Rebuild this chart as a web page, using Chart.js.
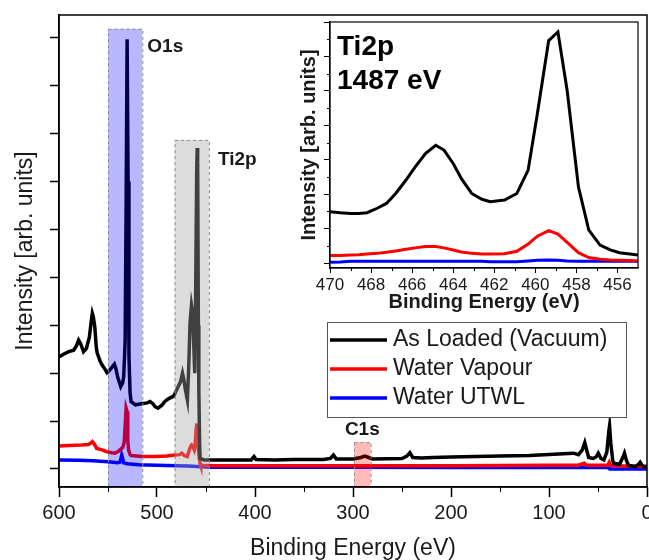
<!DOCTYPE html>
<html>
<head>
<meta charset="utf-8">
<title>XPS survey with Ti2p inset</title>
<script src="https://cdn.jsdelivr.net/npm/chart.js@4.4.0/dist/chart.umd.min.js"></script>
<style>
    body { margin: 0; background: #fff; }
    #wrap { position: relative; width: 649px; height: 560px; overflow: hidden; }
    #main { position: absolute; left: 0; top: 0; }
    #inset { position: absolute; left: 290px; top: 16px; background: #fff; }
</style>
</head>
<body>
<div id="wrap">
    <canvas id="main" width="649" height="560"></canvas>
    <canvas id="inset" width="355" height="302"></canvas>
</div>
<script>
// Survey spectra (binding energy in eV, intensity in arb. units)
const vacuumEnergy = [600, 595, 590, 585, 582, 580, 578, 575, 572, 569, 567, 566, 565, 563.5, 562, 561, 558, 556, 553, 551, 548, 545, 543.5, 542, 540, 537, 535, 534, 533, 532.5, 531.5, 530.5, 530, 529.5, 528.6, 527.5, 526.5, 522, 516, 510, 507, 504, 502, 499, 495, 492, 488, 483, 480, 477, 476, 474, 472.5, 471, 469, 467.5, 466.3, 464.8, 463.5, 462.5, 461.5, 460.5, 459.5, 459, 458.5, 457.8, 457.3, 456.5, 456, 452, 440, 420, 404, 401, 399, 380, 360, 330, 323, 320, 317, 300, 292, 288, 284, 280, 250, 245, 242, 239, 230, 218, 200, 150, 120, 100, 85, 75, 70, 66, 63.5, 61, 59.5, 55, 52, 49.7, 47, 44, 41, 39, 38.2, 37, 35, 34, 28, 24.5, 23, 21, 19, 12, 8.5, 7, 5, 3.5, 0];
const vacuumIntensity = [2.34, 2.40, 2.45, 2.48, 2.58, 2.69, 2.62, 2.45, 2.52, 2.75, 3.10, 3.25, 3.18, 2.97, 2.55, 2.42, 2.25, 2.17, 2.08, 2.01, 2.07, 2.15, 2.19, 2.10, 1.91, 1.72, 1.80, 1.93, 2.40, 2.69, 5.5, 8.97, 8.97, 6.0, 2.34, 1.6, 1.41, 1.34, 1.36, 1.38, 1.41, 1.36, 1.30, 1.27, 1.33, 1.41, 1.47, 1.52, 1.65, 1.78, 1.82, 2.0, 1.85, 1.65, 1.44, 2.2, 3.04, 3.42, 3.25, 2.6, 2.0, 3.8, 6.2, 6.70, 6.4, 3.0, 1.65, 0.5, 0.22, 0.19, 0.19, 0.19, 0.19, 0.26, 0.20, 0.19, 0.20, 0.20, 0.22, 0.29, 0.21, 0.21, 0.24, 0.27, 0.24, 0.21, 0.22, 0.27, 0.34, 0.24, 0.23, 0.24, 0.25, 0.27, 0.28, 0.30, 0.32, 0.33, 0.30, 0.40, 0.55, 0.35, 0.24, 0.22, 0.25, 0.33, 0.22, 0.19, 0.35, 0.78, 0.90, 0.55, 0.18, 0.12, 0.10, 0.25, 0.33, 0.18, 0.08, 0.05, 0.10, 0.14, 0.08, 0.05, 0.05];

const vapourEnergy = [600, 590, 577, 570, 567, 566, 564, 561.5, 556, 551, 546, 543, 540, 537.8, 535, 533.5, 532.5, 531.5, 530.5, 529.8, 529, 527.5, 526.5, 515, 502, 490, 481.6, 477, 474.8, 472, 469, 467, 465.5, 464.6, 463, 462, 461, 460, 459.5, 459, 458, 457.1, 456, 455.4, 440, 400, 300, 200, 100, 70, 64, 62, 40, 38.5, 37, 20, 0];
const vapourIntensity = [0.48, 0.49, 0.50, 0.51, 0.55, 0.57, 0.52, 0.43, 0.40, 0.36, 0.34, 0.33, 0.36, 0.40, 0.45, 0.55, 0.90, 1.27, 1.20, 0.60, 0.40, 0.30, 0.28, 0.26, 0.26, 0.27, 0.29, 0.30, 0.33, 0.28, 0.26, 0.40, 0.48, 0.50, 0.45, 0.40, 0.50, 0.85, 0.95, 0.85, 0.45, 0.26, 0.12, 0.08, 0.07, 0.07, 0.07, 0.07, 0.08, 0.08, 0.12, 0.08, 0.08, 0.14, 0.07, 0.06, 0.05];

const utwlEnergy = [600, 580, 565, 550, 540, 538, 537, 536, 535, 534, 530, 519, 500, 480, 468, 460, 444, 400, 300, 200, 100, 40, 38, 0];
const utwlIntensity = [0.19, 0.18, 0.17, 0.15, 0.13, 0.14, 0.20, 0.29, 0.22, 0.13, 0.11, 0.09, 0.08, 0.07, 0.06, 0.05, 0.035, 0.035, 0.035, 0.03, 0.03, 0.03, 0.0, 0.0];

// Ti2p inset spectra
const ti2pEnergy = [470, 469.5, 469, 468.6, 468.2, 467.7, 467.25, 466.8, 466.3, 465.85, 465.35, 464.85, 464.45, 464, 463.6, 463.1, 462.6, 462.2, 461.5, 460.9, 460.35, 459.9, 459.35, 458.9, 458.45, 457.9, 457.4, 456.85, 456.35, 455.9, 455.4, 455];
const ti2pVacuum = [1.49, 1.46, 1.44, 1.44, 1.46, 1.59, 1.73, 2.02, 2.41, 2.79, 3.18, 3.42, 3.28, 2.89, 2.45, 2.02, 1.85, 1.78, 1.83, 2.02, 2.70, 4.34, 6.46, 6.71, 5.01, 2.21, 0.96, 0.52, 0.38, 0.30, 0.26, 0.23];
const ti2pVapour = [0.22, 0.22, 0.23, 0.24, 0.26, 0.28, 0.31, 0.35, 0.40, 0.44, 0.48, 0.48, 0.44, 0.38, 0.32, 0.28, 0.26, 0.26, 0.27, 0.34, 0.55, 0.78, 0.94, 0.84, 0.60, 0.30, 0.16, 0.11, 0.09, 0.08, 0.07, 0.06];
const ti2pUtwl = [0.02, 0.03, 0.05, 0.05, 0.05, 0.05, 0.05, 0.05, 0.05, 0.05, 0.05, 0.05, 0.05, 0.05, 0.05, 0.05, 0.05, 0.04, 0.04, 0.04, 0.06, 0.08, 0.09, 0.08, 0.06, 0.05, 0.05, 0.05, 0.05, 0.05, 0.05, 0.05];

const seriesLabels = ['As Loaded (Vacuum)', 'Water Vapour', 'Water UTWL'];
const seriesColors = ['#000000', '#ff0000', '#0000ff'];

// Highlighted core-level windows: label, high eV, low eV, top of box
const regionLabels = ['O1s', 'Ti2p', 'C1s'];
const regionHigh = [550, 482, 299];
const regionLow = [515, 447, 282];
const regionTop = [9.19, 6.87, 0.56];
const regionFills = ['rgba(0, 0, 255, 0.28)', 'rgba(164, 164, 164, 0.39)', 'rgba(255, 0, 0, 0.27)'];

const FONT = '"Liberation Sans", Arial, sans-serif';
const TEXT = '#1a1a1a';

function series(i, energy, intensity, width) {
    return {
        label: seriesLabels[i],
        data: energy.map((e, k) => ({ x: e, y: intensity[k] })),
        borderColor: seriesColors[i],
        backgroundColor: seriesColors[i],
        borderWidth: width,
        pointRadius: 0,
        tension: 0,
        fill: false
    };
}

// Box around the plot area
const framePlugin = {
    id: 'frame',
    afterDraw(chart, args, opts) {
        const { ctx, chartArea: a } = chart;
        ctx.save();
        ctx.strokeStyle = '#000';
        ctx.lineWidth = opts.width || 1.5;
        ctx.strokeRect(a.left, a.top, a.right - a.left, a.bottom - a.top);
        ctx.restore();
    }
};

// Short ticks halfway between the major ones
const minorTickPlugin = {
    id: 'minorTicks',
    afterDraw(chart, args, opts) {
        const { ctx } = chart;
        ctx.save();
        ctx.strokeStyle = '#000';
        ctx.lineWidth = 1;
        ['x', 'y'].forEach(id => {
            const len = opts[id];
            if (!len) return;
            const scale = chart.scales[id];
            const vals = scale.ticks.map(t => t.value);
            for (let i = 0; i < vals.length - 1; i++) {
                const p = Math.round(scale.getPixelForValue((vals[i] + vals[i + 1]) / 2)) + 0.5;
                ctx.beginPath();
                if (id === 'x') {
                    ctx.moveTo(p, scale.top);
                    ctx.lineTo(p, scale.top + len);
                } else {
                    ctx.moveTo(scale.right, p);
                    ctx.lineTo(scale.right - len, p);
                }
                ctx.stroke();
            }
        });
        ctx.restore();
    }
};

// Shaded core-level windows drawn over the spectra, with their labels
const regionPlugin = {
    id: 'regions',
    afterDatasetsDraw(chart) {
        const { ctx, chartArea: a, scales: { x, y } } = chart;
        ctx.save();
        regionLabels.forEach((name, i) => {
            const left = x.getPixelForValue(regionHigh[i]);
            const right = x.getPixelForValue(regionLow[i]);
            const top = y.getPixelForValue(regionTop[i]);
            ctx.fillStyle = regionFills[i];
            ctx.fillRect(left, top, right - left, a.bottom - top);
            ctx.setLineDash([3, 3]);
            ctx.strokeStyle = '#8a8a8a';
            ctx.lineWidth = 1;
            ctx.strokeRect(left + 0.5, top + 0.5, right - left, a.bottom - top);
            ctx.setLineDash([]);

            ctx.fillStyle = TEXT;
            ctx.font = 'bold 19px ' + FONT;
            ctx.textBaseline = 'middle';
            if (name === 'C1s') {
                ctx.textAlign = 'center';
                ctx.fillText(name, (left + right) / 2, top - 12);
            } else if (name === 'O1s') {
                ctx.textAlign = 'left';
                ctx.fillText(name, right + 5, top + 18);
            } else {
                ctx.textAlign = 'left';
                ctx.fillText(name, right + 9, top + 20);
            }
        });
        ctx.restore();
    }
};

// Legend box in the lower right of the survey
const boxLegendPlugin = {
    id: 'boxLegend',
    afterDraw(chart) {
        const { ctx, chartArea: a } = chart;
        const bx = a.right - 320, by = a.top + 307, bw = 299, bh = 95;
        ctx.save();
        ctx.fillStyle = '#fff';
        ctx.fillRect(bx, by, bw, bh);
        ctx.strokeStyle = '#555';
        ctx.lineWidth = 1;
        ctx.strokeRect(bx + 0.5, by + 0.5, bw, bh);
        ctx.font = '23px ' + FONT;
        ctx.textBaseline = 'middle';
        ctx.textAlign = 'left';
        chart.data.datasets.forEach((ds, i) => {
            const cy = by + 18 + i * 29;
            ctx.strokeStyle = ds.borderColor;
            ctx.lineWidth = 3.5;
            ctx.beginPath();
            ctx.moveTo(bx + 3, cy);
            ctx.lineTo(bx + 60, cy);
            ctx.stroke();
            ctx.fillStyle = TEXT;
            ctx.fillText(ds.label, bx + 66, cy);
        });
        ctx.restore();
    }
};

// Text block in the top left of the inset
const insetNotePlugin = {
    id: 'insetNote',
    afterDraw(chart) {
        const { ctx, chartArea: a } = chart;
        ctx.save();
        ctx.fillStyle = '#000';
        ctx.font = 'bold 28px ' + FONT;
        ctx.textAlign = 'left';
        ctx.textBaseline = 'alphabetic';
        ctx.fillText('Ti2p', a.left + 7, a.top + 33);
        ctx.fillText('1487 eV', a.left + 7, a.top + 67);
        ctx.restore();
    }
};

const mainChart = new Chart(document.getElementById('main'), {
    type: 'line',
    data: {
        datasets: [
            series(0, vacuumEnergy, vacuumIntensity, 3.5),
            series(1, vapourEnergy, vapourIntensity, 3.5),
            series(2, utwlEnergy, utwlIntensity, 3.5)
        ]
    },
    plugins: [regionPlugin, framePlugin, minorTickPlugin, boxLegendPlugin],
    options: {
        responsive: false,
        animation: false,
        layout: { padding: { top: 15, right: 2, left: 0, bottom: 0 } },
        plugins: {
            legend: { display: false },
            tooltip: { enabled: false },
            frame: { width: 1.5 },
            minorTicks: { x: 5 }
        },
        scales: {
            x: {
                type: 'linear',
                reverse: true,
                min: 0,
                max: 600,
                ticks: {
                    stepSize: 100,
                    includeBounds: false,
                    maxRotation: 0,
                    padding: 4,
                    color: TEXT,
                    font: { size: 20, family: FONT }
                },
                grid: { drawOnChartArea: false, tickLength: 10, tickColor: '#000', tickWidth: 1.5 },
                border: { color: '#000', width: 1.5 },
                title: {
                    display: true,
                    text: 'Binding Energy (eV)',
                    color: TEXT,
                    font: { size: 23, family: FONT, lineHeight: 1 },
                    padding: { top: 0, bottom: 0 }
                },
                afterFit: s => { s.height = 73; s.paddingLeft = 0; s.paddingRight = 0; }
            },
            y: {
                min: -0.376,
                max: 9.478,
                ticks: { stepSize: 1, includeBounds: false, display: false },
                grid: { drawOnChartArea: false, tickLength: 9, tickColor: '#000', tickWidth: 1.5 },
                border: { color: '#000', width: 1.5 },
                title: {
                    display: true,
                    text: 'Intensity [arb. units]',
                    color: TEXT,
                    font: { size: 23, family: FONT, lineHeight: 1 },
                    padding: { top: 14, bottom: 0 }
                },
                afterFit: s => { s.width = 59; s.paddingTop = 0; s.paddingBottom = 0; }
            }
        }
    }
});

const insetChart = new Chart(document.getElementById('inset'), {
    type: 'line',
    data: {
        datasets: [
            series(0, ti2pEnergy, ti2pVacuum, 3),
            series(1, ti2pEnergy, ti2pVapour, 3),
            series(2, ti2pEnergy, ti2pUtwl, 3)
        ]
    },
    plugins: [framePlugin, minorTickPlugin, insetNotePlugin],
    options: {
        responsive: false,
        animation: false,
        layout: { padding: { top: 6, right: 7, left: 0, bottom: 0 } },
        plugins: {
            legend: { display: false },
            tooltip: { enabled: false },
            frame: { width: 1.2 },
            minorTicks: { x: 3, y: 3 }
        },
        scales: {
            x: {
                type: 'linear',
                reverse: true,
                min: 455,
                max: 470,
                ticks: {
                    stepSize: 2,
                    includeBounds: false,
                    maxRotation: 0,
                    padding: 2,
                    color: TEXT,
                    font: { size: 17, family: FONT }
                },
                grid: { drawOnChartArea: false, tickLength: 5, tickColor: '#000' },
                border: { color: '#000', width: 1.2 },
                title: {
                    display: true,
                    text: 'Binding Energy (eV)',
                    color: TEXT,
                    font: { size: 20, weight: 'bold', family: FONT, lineHeight: 1 },
                    padding: { top: 0, bottom: 6 }
                },
                afterFit: s => { s.height = 50; s.paddingLeft = 0; s.paddingRight = 0; }
            },
            y: {
                min: -0.145,
                max: 7,
                ticks: { stepSize: 1, includeBounds: false, display: false },
                grid: { drawOnChartArea: false, tickLength: 6, tickColor: '#000' },
                border: { color: '#000', width: 1.2 },
                title: {
                    display: true,
                    text: 'Intensity [arb. units]',
                    color: TEXT,
                    font: { size: 20, weight: 'bold', family: FONT, lineHeight: 1 },
                    padding: { top: 9, bottom: 0 }
                },
                afterFit: s => { s.width = 40; s.paddingTop = 0; s.paddingBottom = 0; }
            }
        }
    }
});
</script>
</body>
</html>
